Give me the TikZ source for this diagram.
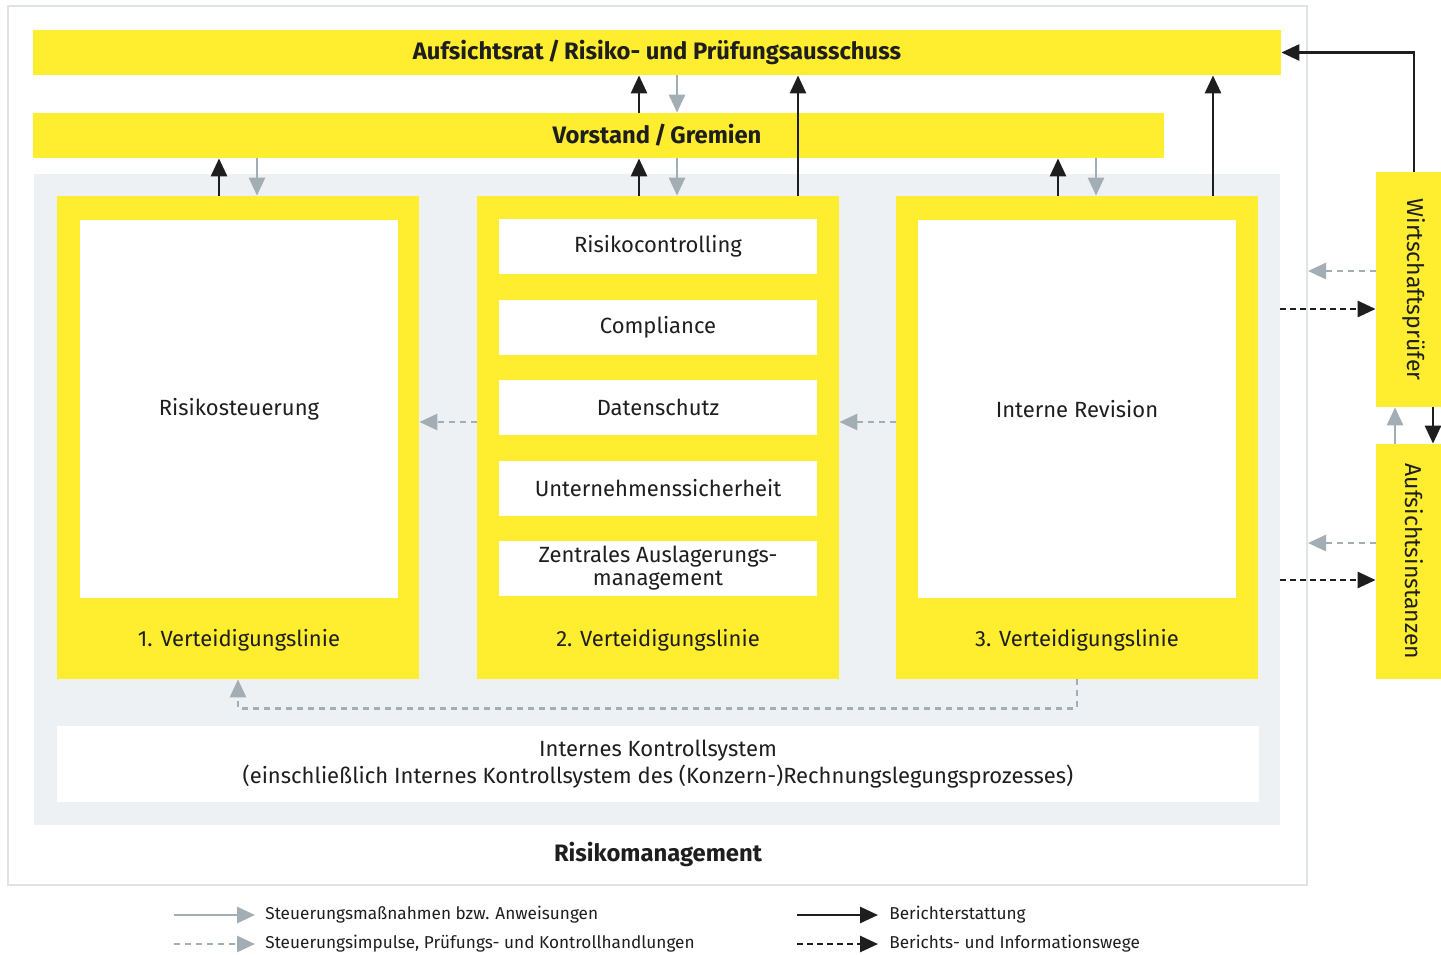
\documentclass[tikz,border=0pt]{standalone}
\usepackage{fontspec}
\setmainfont{Fira Sans}
\usepackage{xcolor}
\usetikzlibrary{arrows.meta}

\definecolor{gelb}{HTML}{FFED2F}
\definecolor{hellgrau}{HTML}{EEF1F4}
\definecolor{pfeilgrau}{HTML}{A3ADB4}
\definecolor{dunkel}{HTML}{1E1E1E}
\definecolor{rahmen}{HTML}{DFE3E7}

\begin{document}
\begin{tikzpicture}[x=0.5pt, y=-0.5pt,
    font=\fontsize{11}{13}\selectfont, text=dunkel,
    titel/.style={font=\fontsize{11.9}{14}\selectfont\bfseries},
    legende/.style={anchor=west, inner sep=0pt, font=\fontsize{8.6}{10}\selectfont},
    bar/.style={fill=gelb, inner sep=0pt},
    box/.style={fill=white, inner sep=0pt, minimum width=159pt, align=center},
    report/.style={draw=dunkel, line width=1.4pt, -{Triangle[length=9pt,width=8pt]}},
    steer/.style={draw=pfeilgrau, line width=1.4pt, -{Triangle[length=9pt,width=8pt]}},
    reportdash/.style={report, dash pattern=on 3pt off 2pt},
    steerdash/.style={steer, dash pattern=on 3pt off 2.5pt}]
    \useasboundingbox (0,0) rectangle (1441,954);

    % frame and risk management area
    \node[draw=rahmen, line width=1pt, minimum width=649.5pt, minimum height=439.5pt] at (657.5,445.5) (frame) {};
    \node[fill=hellgrau, inner sep=0pt, minimum width=623pt, minimum height=325.5pt] at (657,499.5) (rm) {};
    \node[titel] at (658,854) (rmt) {Risikomanagement};

    % board bars
    \node[bar, titel, minimum width=624pt, minimum height=22.5pt] at (657,52.5) (ar) {Aufsichtsrat\,/\,Risiko- und Prüfungsausschuss};
    \node[bar, minimum width=565.5pt, minimum height=22.5pt] at (598.5,135.5) (vs) {};
    \node[titel] at (657,135.5) (vst) {Vorstand\,/\,Gremien};

    % lines of defence
    \node[bar, minimum width=181pt, minimum height=241.5pt] at (238,437.5) (l1) {};
    \node[box, minimum height=189pt] at (239,409) (l1b) {Risikosteuerung};
    \node at (239,640) (l1t) {1. Verteidigungslinie};

    \node[bar, minimum width=181pt, minimum height=241.5pt] at (658,437.5) (l2) {};
    \node[box, minimum height=27.5pt] at (658,246.5) (rc) {Risikocontrolling};
    \node[box, minimum height=27.5pt] at (658,327.5) (cp) {Compliance};
    \node[box, minimum height=27.5pt] at (658,407.5) (ds) {Datenschutz};
    \node[box, minimum height=27.5pt] at (658,488.5) (us) {Unternehmenssicherheit};
    \node[box, minimum height=27.5pt] at (658,568.5) (za) {Zentrales Auslagerungs-\\[-1.5pt]management};
    \node at (658,640) (l2t) {2. Verteidigungslinie};

    \node[bar, minimum width=181pt, minimum height=241.5pt] at (1077,437.5) (l3) {};
    \node[box, minimum height=189pt] at (1077,409) (l3b) {Interne Revision};
    \node at (1077,640) (l3t) {3. Verteidigungslinie};

    \node[fill=white, inner sep=0pt, minimum width=601pt, minimum height=38pt, align=center] at (658,764) (iks)
        {Internes Kontrollsystem\\[0.5pt](einschließlich Internes Kontrollsystem des (Konzern-)Rechnungslegungsprozesses)};

    % external bodies
    \node[bar, minimum width=38pt, minimum height=117.5pt] at (1414,289.5) (wp) {};
    \node[rotate=-90, font=\fontsize{11.5}{13}\selectfont] at (wp.center) (wpt) {Wirtschaftsprüfer};
    \node[bar, minimum width=38pt, minimum height=117.5pt] at (1414,561.5) (ai) {};
    \node[rotate=-90, font=\fontsize{11.5}{13}\selectfont] at (ai.center) (ait) {Aufsichtsinstanzen};

    % arrows
    \draw[report] ([xshift=-9.5pt]l1.north) -- ([xshift=-9.5pt]l1.north |- vs.south);
    \draw[steer] ([xshift=9.5pt]l1.north |- vs.south) -- ([xshift=9.5pt]l1.north);
    \draw[report] ([xshift=-9.5pt]l2.north) -- ([xshift=-9.5pt]l2.north |- vs.south);
    \draw[steer] ([xshift=9.5pt]l2.north |- vs.south) -- ([xshift=9.5pt]l2.north);
    \draw[report] ([xshift=-9.5pt]l3.north) -- ([xshift=-9.5pt]l3.north |- vs.south);
    \draw[steer] ([xshift=9.5pt]l3.north |- vs.south) -- ([xshift=9.5pt]l3.north);
    \draw[report] ([xshift=-9.5pt]l2.north |- vs.north) -- ([xshift=-9.5pt]l2.north |- ar.south);
    \draw[steer] ([xshift=9.5pt]l2.north |- ar.south) -- ([xshift=9.5pt]l2.north |- vs.north);
    \draw[report] ([xshift=70pt]l2.north) -- ([xshift=70pt]l2.north |- ar.south);
    \draw[report] ([xshift=68pt]l3.north) -- ([xshift=68pt]l3.north |- ar.south);
    \draw[report] (wp.north) |- (ar.east);
    \draw[steer] ([xshift=-9.5pt]ai.north) -- ([xshift=-9.5pt]wp.south);
    \draw[report] ([xshift=9.5pt]wp.south) -- ([xshift=9.5pt]ai.north);

    \draw[steerdash] ([yshift=9.25pt]wp.west) -- ([yshift=9.25pt]wp.west -| frame.east);
    \draw[reportdash] ([yshift=-9.75pt]wp.west -| rm.east) -- ([yshift=-9.75pt]wp.west);
    \draw[steerdash] ([yshift=9.25pt]ai.west) -- ([yshift=9.25pt]ai.west -| frame.east);
    \draw[reportdash] ([yshift=-9.25pt]ai.west -| rm.east) -- ([yshift=-9.25pt]ai.west);

    \draw[steerdash] ([yshift=7.75pt]l2.west) -- ([yshift=7.75pt]l1.east);
    \draw[steerdash] ([yshift=7.75pt]l3.west) -- ([yshift=7.75pt]l2.east);
    \draw[steerdash] (l3.south) -- ++(0,29) -| (l1.south);

    % legend
    \node[legende] at (265,915) (lg1) {Steuerungsmaßnahmen bzw. Anweisungen};
    \node[legende] at (265,944) (lg2) {Steuerungsimpulse, Prüfungs- und Kontrollhandlungen};
    \node[legende] at (889,915) (lg3) {Berichterstattung};
    \node[legende] at (889,944) (lg4) {Berichts- und Informationswege};
    \draw[steer] ([xshift=-45.5pt]lg1.west) -- ([xshift=-5pt]lg1.west);
    \draw[steerdash] ([xshift=-45.5pt]lg2.west) -- ([xshift=-5pt]lg2.west);
    \draw[report] ([xshift=-46pt]lg3.west) -- ([xshift=-5.5pt]lg3.west);
    \draw[reportdash] ([xshift=-46pt]lg4.west) -- ([xshift=-5.5pt]lg4.west);
\end{tikzpicture}
\end{document}
